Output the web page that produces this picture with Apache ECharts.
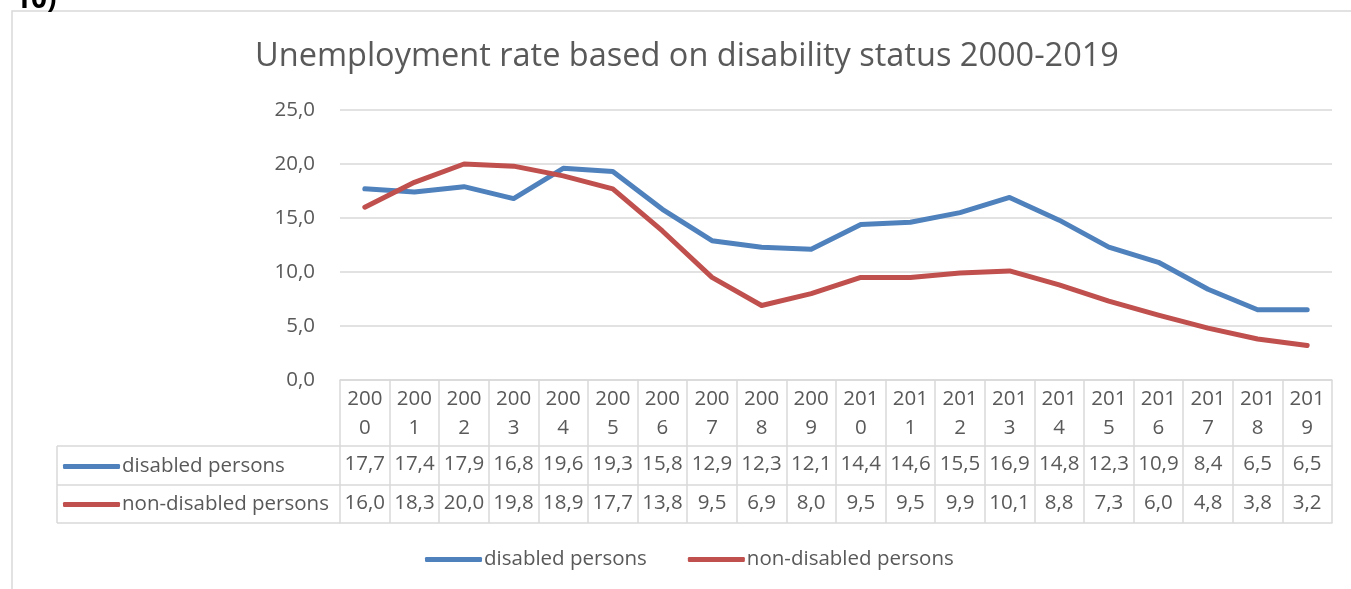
<!DOCTYPE html>
<html>
<head>
<meta charset="utf-8">
<script src="https://cdn.jsdelivr.net/npm/echarts@6/dist/echarts.min.js"></script>
<style>
html,body{margin:0;padding:0;background:#fff;}
#c{width:1351px;height:589px;}
</style>
</head>
<body>
<div id="c"></div>
<script>
var years = ['2000','2001','2002','2003','2004','2005','2006','2007','2008','2009','2010','2011','2012','2013','2014','2015','2016','2017','2018','2019'];
var disabled = [17.7,17.4,17.9,16.8,19.6,19.3,15.8,12.9,12.3,12.1,14.4,14.6,15.5,16.9,14.8,12.3,10.9,8.4,6.5,6.5];
var nonDisabled = [16.0,18.3,20.0,19.8,18.9,17.7,13.8,9.5,6.9,8.0,9.5,9.5,9.9,10.1,8.8,7.3,6.0,4.8,3.8,3.2];
var seriesNames = ['disabled persons','non-disabled persons'];
var yTicks = [0,5,10,15,20,25];
var titleText = 'Unemployment rate based on disability status 2000-2019';

var FONT = 'Open Sans';
var FS = 20.5;
var GRAY = '#595959';
var LINE = '#d9d9d9';
var BLUE = '#4f81bd';
var RED = '#c0504d';
function fmt(v){ return v.toFixed(1).replace('.', ','); }

var chart = echarts.init(document.getElementById('c'), null, {renderer:'canvas'});

function rowAxis(offset, tickLen, values, showLabel){
  return {
    type:'category', data: years, position:'bottom', offset: offset, gridIndex:0,
    boundaryGap:true,
    axisLine:{show:true, lineStyle:{color:LINE, width:1.5}},
    axisTick:{show: tickLen>0, interval:0, length: tickLen, inside:false, lineStyle:{color:LINE, width:1.5}},
    axisLabel:{show: showLabel, interval:0, margin: 8, fontFamily:FONT, fontSize:FS, color:GRAY,
      formatter:function(v, i){ return values ? fmt(values[i]) : ''; }},
    splitLine:{show:false}
  };
}

var legendCommon = {
  selectedMode:false, icon:'roundRect', itemWidth:57, itemHeight:5,
  textStyle:{fontFamily:FONT, fontSize:FS, color:GRAY, padding:[0,0,0,-3]},
  itemGap:20
};

var option = {
  backgroundColor:'#fff',
  animation:false,
  title:{
    text:titleText, left:682, textAlign:'center', top:35,
    textStyle:{fontFamily:FONT, fontSize:32.5, fontWeight:'normal', color:GRAY}
  },
  grid:{left:340, right:19, top:110, bottom:209, containLabel:false},
  legend:[
    Object.assign({}, legendCommon, {data:[seriesNames[0]], left:58, top:451}),
    Object.assign({}, legendCommon, {data:[seriesNames[1]], left:58, top:489}),
    Object.assign({}, legendCommon, {data:seriesNames, left:420, top:544, itemGap:41})
  ],
  xAxis:[
    {
      type:'category', data:years, position:'bottom', boundaryGap:true,
      axisLine:{show:true, lineStyle:{color:LINE, width:1.5}},
      axisTick:{show:true, interval:0, length:66, lineStyle:{color:LINE, width:1.5}},
      axisLabel:{interval:0, margin:5, fontFamily:FONT, fontSize:FS, color:GRAY, lineHeight:29,
        formatter:function(v){ return v.slice(0,3)+'\n'+v.slice(3); }},
      splitLine:{show:false}
    },
    rowAxis(66, 39, disabled, true),
    rowAxis(105, 38, nonDisabled, true),
    rowAxis(143, 0, null, false)
  ],
  yAxis:{
    type:'value', min:yTicks[0], max:yTicks[yTicks.length-1], interval:yTicks[1]-yTicks[0],
    axisLine:{show:false}, axisTick:{show:false},
    axisLabel:{margin:25, fontFamily:FONT, fontSize:FS, color:GRAY, formatter:function(v){ return fmt(v); }},
    splitLine:{lineStyle:{color:LINE, width:1.5}}
  },
  series:[
    {name:seriesNames[0], type:'line', data:disabled, symbol:'none', smooth:false,
      lineStyle:{color:BLUE, width:5, cap:'round', join:'round'}, itemStyle:{color:BLUE}},
    {name:seriesNames[1], type:'line', data:nonDisabled, symbol:'none', smooth:false,
      lineStyle:{color:RED, width:5, cap:'round', join:'round'}, itemStyle:{color:RED}}
  ],
  graphic:[
    {type:'rect', shape:{x:12, y:11, width:1360, height:600}, style:{fill:null, stroke:LINE, lineWidth:1.5}, silent:true},
    {type:'text', left:15, top:-14, style:{text:'10)', font:'bold 28px "Open Sans"', fill:'#000'}},
    {type:'line', shape:{x1:57, y1:446, x2:340, y2:446}, style:{stroke:LINE, lineWidth:1.5}},
    {type:'line', shape:{x1:57, y1:485, x2:340, y2:485}, style:{stroke:LINE, lineWidth:1.5}},
    {type:'line', shape:{x1:57, y1:523, x2:340, y2:523}, style:{stroke:LINE, lineWidth:1.5}},
    {type:'line', shape:{x1:57, y1:446, x2:57, y2:523}, style:{stroke:LINE, lineWidth:1.5}}
  ]
};
chart.setOption(option);
</script>
</body>
</html>
